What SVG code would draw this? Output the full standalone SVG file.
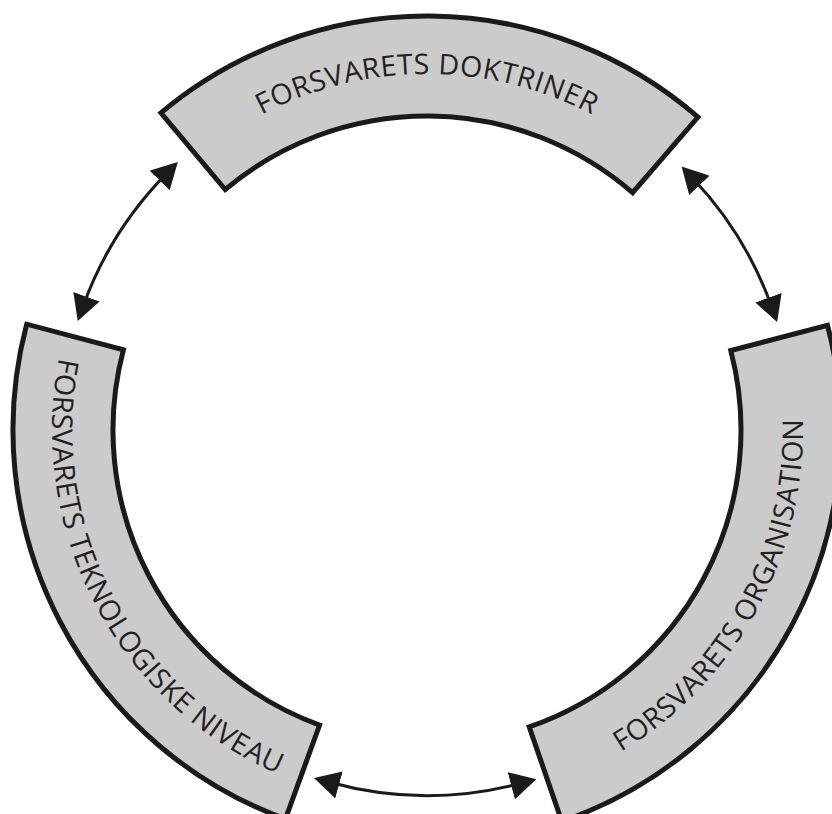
<svg xmlns="http://www.w3.org/2000/svg" xmlns:xlink="http://www.w3.org/1999/xlink" width="832" height="814" viewBox="0 0 832 814">
  <style>
    .seg { fill: #cbcbcb; stroke: #1a1a1a; stroke-width: 5; stroke-linejoin: miter; }
    .lbl { font-family: "Open Sans", "Noto Sans", "Liberation Sans", sans-serif; font-size: 28.5px; letter-spacing: 0.5px; fill: #231f20; }
    .conn { fill: none; stroke: #1a1a1a; stroke-width: 3; }
  </style>
  <defs>
    <marker id="ah" markerUnits="userSpaceOnUse" markerWidth="26" markerHeight="28" viewBox="0 0 24 26" refX="9" refY="13" orient="auto-start-reverse">
      <path d="M0,0 L24,13 L0,26 Z" fill="#1a1a1a"/>
    </marker>
    <path id="tp-top" d="M118.7,252 A356,356 0 0 1 735.3,252"/>
    <path id="tp-left" d="M109.9,229.9 A375,375 0 0 0 412.3,804.7"/>
    <path id="tp-right" d="M436.2,805.9 A376,376 0 0 0 747.9,234.1"/>
  </defs>
  <rect width="832" height="814" fill="#ffffff"/>

  <g id="node-doktriner">
    <path class="seg" d="M160.9,112.9 A414,414 0 0 1 698.0,117.1 L632.6,192.6 A314,314 0 0 0 225.2,189.5 Z"/>
    <text class="lbl" text-anchor="middle"><textPath xlink:href="#tp-top" href="#tp-top" startOffset="50%">FORSVARETS DOKTRINER</textPath></text>
  </g>

  <g id="node-teknologi">
    <path class="seg" d="M26.7,324.2 A414,414 0 0 0 285.4,819.0 L319.6,725.1 A314,314 0 0 1 123.4,349.8 Z"/>
    <text class="lbl" text-anchor="middle"><textPath xlink:href="#tp-left" href="#tp-left" startOffset="50%">FORSVARETS TEKNOLOGISKE NIVEAU</textPath></text>
  </g>

  <g id="node-organisation">
    <path class="seg" d="M827.5,325.3 A414,414 0 0 1 561.8,821.4 L529.2,726.9 A314,314 0 0 0 730.8,350.6 Z"/>
    <text class="lbl" text-anchor="middle"><textPath xlink:href="#tp-right" href="#tp-right" startOffset="50%">FORSVARETS ORGANISATION</textPath></text>
  </g>

  <g id="connectors">
    <path class="conn" d="M166.5,173.6 A365.5,365.5 0 0 0 83.2,305.9" marker-start="url(#ah)" marker-end="url(#ah)"/>
    <path class="conn" d="M692.7,178.3 A366,366 0 0 1 771.7,306.9" marker-start="url(#ah)" marker-end="url(#ah)"/>
    <path class="conn" d="M329.6,782.3 A365.5,365.5 0 0 0 520.7,783.3" marker-start="url(#ah)" marker-end="url(#ah)"/>
  </g>
</svg>
